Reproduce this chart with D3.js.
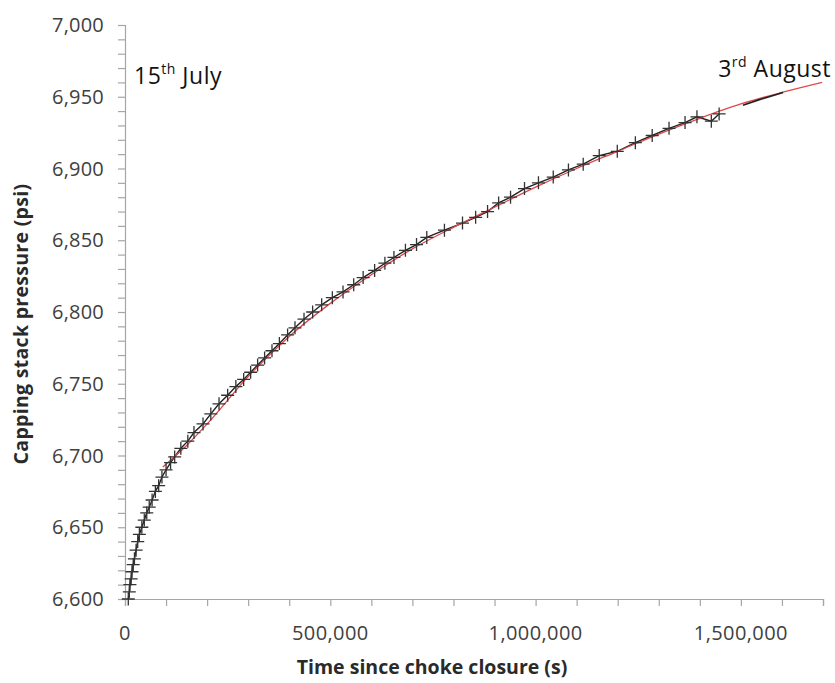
<!DOCTYPE html>
<html>
<head>
<meta charset="utf-8">
<script src="https://cdn.jsdelivr.net/npm/d3@7"></script>
<style>
body { margin:0; background:#fff; }
text { font-family:"Open Sans", sans-serif; }
</style>
</head>
<body>
<div id="chart"></div>
<script>
// measured gauge points (time since choke closure in s, pressure in psi)
var markerTime = [8000,10500,12000,15000,17000,20000,23000,27000,31000,35000,41000,47000,53000,59000,66000,74000,82000,90000,100000,111000,121000,136000,153000,168000,190000,209000,229000,250000,270000,289000,306000,323000,340000,358000,376000,396000,414000,436000,457000,479000,505000,531000,557000,580000,608000,633000,655000,683000,710000,735000,778000,822000,854000,883000,910000,939000,973000,1007000,1043000,1080000,1116000,1155000,1199000,1243000,1284000,1325000,1364000,1393000,1428000,1447000];
var markerPsi = [6600,6605,6610,6614,6619,6624,6628,6634,6640,6645,6650,6655,6660,6664,6669,6675,6679,6685,6690,6695,6699,6705,6710,6716,6722,6729,6736,6742,6748,6753,6758,6763,6768,6773,6778,6784,6789,6795,6800,6805,6810,6814,6819,6824,6829,6834,6838,6843,6847,6852,6857,6862,6866,6870,6876,6880,6886,6890,6894,6899,6903,6909,6912,6918,6923,6928,6932,6936,6933,6938];

// later record without markers
var tailTime = [1505000,1545000,1603000];
var tailPsi = [6944,6948,6953];

// fitted curve (red)
var fitTime = [92000,150000,200000,300000,400000,500000,600000,700000,800000,900000,1000000,1100000,1200000,1300000,1400000,1500000,1600000,1698000];
var fitPsi = [6692,6707,6722,6755,6783,6806,6826,6844,6859,6873,6887,6900,6912,6924,6935,6945,6953,6960];

var xTicks = [0,500000,1000000,1500000];
var yTicks = [6600,6650,6700,6750,6800,6850,6900,6950,7000];

var W = 835, H = 683;
var mLeft = 125, mRight = 823, mTop = 25, mBottom = 599;

var svg = d3.select('#chart').append('svg')
	.attr('width', W).attr('height', H);
svg.append('rect').attr('width', W).attr('height', H).attr('fill', '#fff');

var x = d3.scaleLinear().domain([0, 1700000]).range([mLeft, mRight]);
var y = d3.scaleLinear().domain([6600, 7000]).range([mBottom, mTop]);
var fmt = d3.format(',');

//---------------------axes---------------------------------------------------
var xAxis = svg.append('g').attr('transform', 'translate(0,' + mBottom + ')')
	.call(d3.axisBottom(x).tickValues(d3.range(0, 1700001, 100000)).tickSize(7).tickFormat(''));
var yAxis = svg.append('g').attr('transform', 'translate(' + mLeft + ',0)')
	.call(d3.axisLeft(y).tickValues(d3.range(6600, 7001, 10)).tickSize(7).tickFormat(''));
[xAxis, yAxis].forEach(function(g) {
	g.select('.domain').attr('stroke', '#a6a6a6').attr('stroke-width', 1.2);
	g.selectAll('.tick line').attr('stroke', '#a6a6a6').attr('stroke-width', 1.2);
});

svg.selectAll('.xlab').data(xTicks).enter().append('text')
	.attr('x', function(d) { return x(d); })
	.attr('y', 640)
	.attr('text-anchor', 'middle')
	.attr('font-size', 20).attr('letter-spacing', 0.4)
	.attr('fill', '#404040')
	.text(fmt);

svg.selectAll('.ylab').data(yTicks).enter().append('text')
	.attr('x', 104)
	.attr('y', function(d) { return y(d); })
	.attr('dy', '0.36em')
	.attr('text-anchor', 'end')
	.attr('font-size', 20).attr('letter-spacing', 0.2)
	.attr('fill', '#404040')
	.text(fmt);

svg.append('text')
	.attr('x', 432).attr('y', 674)
	.attr('text-anchor', 'middle')
	.attr('font-size', 19.5).attr('font-weight', 'bold')
	.attr('fill', '#2a2a2a')
	.text('Time since choke closure (s)');

svg.append('text')
	.attr('transform', 'translate(28,324) rotate(-90)')
	.attr('text-anchor', 'middle')
	.attr('font-size', 19.5).attr('font-weight', 'bold').attr('letter-spacing', 0.3)
	.attr('fill', '#2a2a2a')
	.text('Capping stack pressure (psi)');

//---------------------series---------------------------------------------------
var line = d3.line().x(function(d) { return x(d[0]); }).y(function(d) { return y(d[1]); });

var fit = d3.zip(fitTime, fitPsi);
var obs = d3.zip(markerTime, markerPsi);
var tail = d3.zip(tailTime, tailPsi);

svg.append('path').datum(obs)
	.attr('d', line)
	.attr('fill', 'none').attr('stroke', '#222').attr('stroke-width', 1.4);

svg.append('path').datum(fit)
	.attr('d', line.curve(d3.curveMonotoneX))
	.attr('fill', 'none').attr('stroke', '#e0484a').attr('stroke-width', 1.3);

svg.append('path').datum(tail)
	.attr('d', line.curve(d3.curveLinear))
	.attr('fill', 'none').attr('stroke', '#222').attr('stroke-width', 1.6);

svg.selectAll('.mk').data(obs).enter().append('path')
	.attr('transform', function(d) { return 'translate(' + x(d[0]) + ',' + y(d[1]) + ')'; })
	.attr('d', 'M-6.5,0H6.5M0,-6.5V6.5')
	.attr('stroke', '#333').attr('stroke-width', 1.3).attr('fill', 'none');

//---------------------date labels---------------------------------------------------
function dateLabel(xp, yp, anchor, num, sup, rest) {
	var t = svg.append('text').attr('x', xp).attr('y', yp)
		.attr('text-anchor', anchor).attr('font-size', 23).attr('letter-spacing', 0.5).attr('fill', '#111');
	t.append('tspan').text(num);
	t.append('tspan').attr('font-size', 14).attr('dy', -10).text(sup);
	t.append('tspan').attr('dy', 10).text(' ' + rest);
}
dateLabel(134, 84, 'start', '15', 'th', 'July');
dateLabel(831, 77, 'end', '3', 'rd', 'August');
</script>
</body>
</html>
